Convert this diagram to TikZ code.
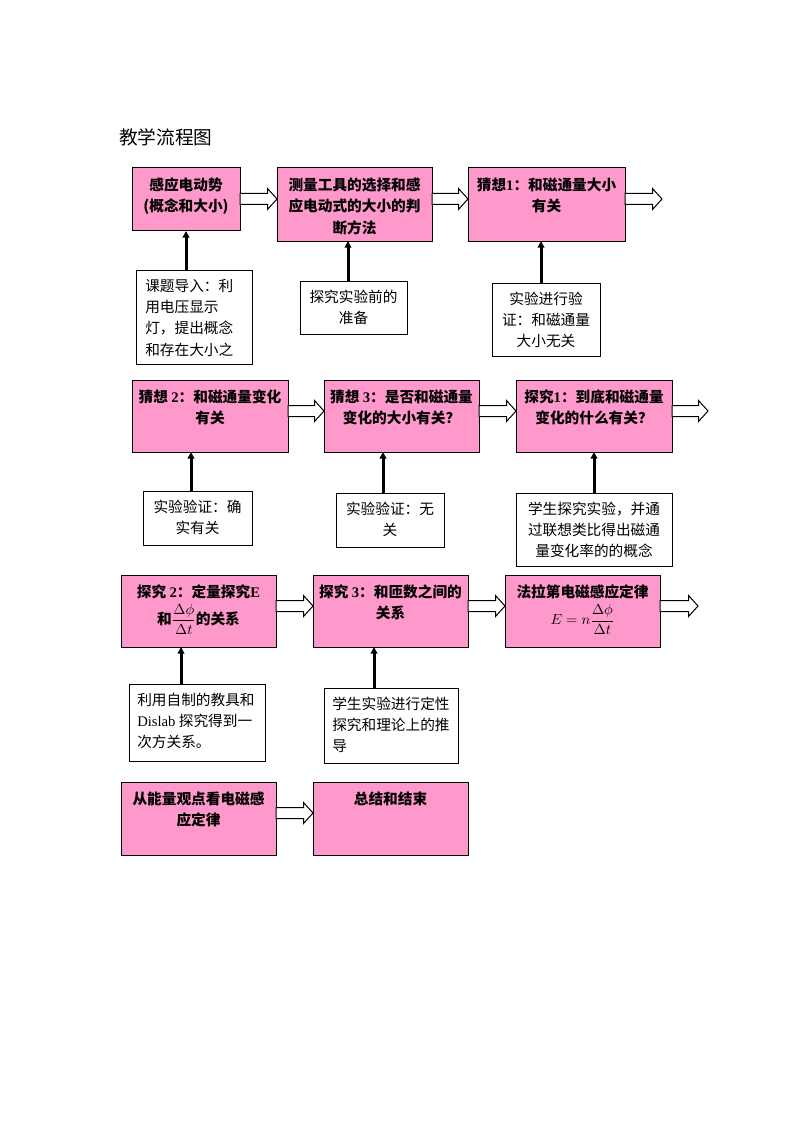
\documentclass[tikz,border=0pt]{standalone}
\usepackage{fontspec}
\setmainfont{Noto Sans CJK SC}
\newfontfamily\lat{Liberation Serif}
\usetikzlibrary{calc,arrows.meta}
\definecolor{boxpink}{RGB}{255,153,204}
\tikzset{
  pinkbox/.style={draw=black, line width=0.75pt, fill=boxpink, rectangle, inner sep=0pt, outer sep=0pt, anchor=north west},
  notebox/.style={draw=black, line width=0.75pt, fill=white, rectangle, inner sep=0pt, outer sep=0pt, anchor=north west},
  boxtext/.style={anchor=north, inner sep=0pt, align=center, font=\fontsize{11pt}{16pt}\selectfont\bfseries},
  notetextc/.style={anchor=north, inner sep=0pt, align=center, font=\fontsize{11pt}{16pt}\selectfont},
  notetextl/.style={anchor=north west, inner sep=0pt, align=left, font=\fontsize{11pt}{16pt}\selectfont},
  uparrow/.style={line width=2.25pt, -{Triangle[length=5pt,width=5pt]}},
  blockarrow/.style={draw=black, line width=0.75pt, fill=white, line join=miter},
}
\newcommand\mkbox[6]{\node[#6, minimum width={(#4-#2)*0.75pt}, minimum height={(#5-#3)*0.75pt}] (#1) at (#2,#3) {};}
\newcommand\barrow[2]{\draw[blockarrow] ($(#1)+(0,-5.5)$) -- ($(#2)+(-9.5,-5.5)$) -- ($(#2)+(-9.5,-10.5)$) -- (#2) -- ($(#2)+(-9.5,10.5)$) -- ($(#2)+(-9.5,5.5)$) -- ($(#1)+(0,5.5)$) -- cycle;}
\begin{document}
\begin{tikzpicture}[x=0.75pt,y=-0.75pt]
\useasboundingbox (0,0) rectangle (794,1123);
\node[anchor=west, inner sep=0pt, font=\fontsize{14pt}{16pt}\selectfont] (title) at (119,137) {教学流程图};

% ---------- row 1 ----------
\mkbox{A}{132}{168}{240}{231}{pinkbox}
\mkbox{B}{277}{168}{432}{241}{pinkbox}
\mkbox{C}{468}{168}{625}{241}{pinkbox}
\node[boxtext] (At) at ($(A.north)+(0,9.5)$) {感应电动势\\(概念和大小)};
\node[boxtext] (Bt) at ($(B.north)+(0,9.5)$) {测量工具的选择和感\\应电动式的大小的判\\断方法};
\node[boxtext] (Ct) at ($(C.north)+(0,9.5)$) {猜想{\lat 1}：和磁通量大小\\有关};

\mkbox{An}{136}{270}{252}{364}{notebox}
\mkbox{Bn}{300}{281}{407}{334}{notebox}
\mkbox{Cn}{492}{283}{600}{356}{notebox}
\node[notetextl] (Ant) at ($(An.north west)+(9,8.5)$) {课题导入：利\\用电压显示\\灯，提出概念\\和存在大小之};
\node[notetextc] (Bnt) at ($(Bn.north)+(0,8.5)$) {探究实验前的\\准备};
\node[notetextc] (Cnt) at ($(Cn.north)+(0,8.5)$) {实验进行验\\证：和磁通量\\大小无关};

\coordinate (ab1) at ($(A.north east)+(0,31)$);
\coordinate (ab2) at (ab1 -| B.west);
\barrow{ab1}{ab2}
\coordinate (bc1) at ($(B.north east)+(0,31)$);
\coordinate (bc2) at (bc1 -| C.west);
\barrow{bc1}{bc2}
\coordinate (cx1) at ($(C.north east)+(0,31)$);
\coordinate (cx2) at ($(cx1)+(37,0)$);
\barrow{cx1}{cx2}

\coordinate (uA) at (186,0);
\coordinate (uB) at (348,0);
\coordinate (uC) at (541,0);
\draw[uparrow] (uA |- An.north) -- (uA |- A.south);
\draw[uparrow] (uB |- Bn.north) -- (uB |- B.south);
\draw[uparrow] (uC |- Cn.north) -- (uC |- C.south);

% ---------- row 2 ----------
\mkbox{D}{132}{380}{288}{452}{pinkbox}
\mkbox{E}{324}{380}{479}{452}{pinkbox}
\mkbox{F}{516}{380}{672}{452}{pinkbox}
\node[boxtext] (Dt) at ($(D.north)+(0,9.5)$) {猜想 {\lat 2}：和磁通量变化\\有关};
\node[boxtext] (Et) at ($(E.north)+(0,9.5)$) {猜想 {\lat 3}：是否和磁通量\\变化的大小有关？};
\node[boxtext] (Ft) at ($(F.north)+(0,9.5)$) {探究{\lat 1}：到底和磁通量\\变化的什么有关？};

\mkbox{Dn}{143}{491}{252}{545}{notebox}
\mkbox{En}{336}{493}{444}{547}{notebox}
\mkbox{Fn}{516}{493}{672}{566}{notebox}
\node[notetextc] (Dnt) at ($(Dn.north)+(0,8.5)$) {实验验证：确\\实有关};
\node[notetextc] (Ent) at ($(En.north)+(0,8.5)$) {实验验证：无\\关};
\node[notetextc] (Fnt) at ($(Fn.north)+(0,8.5)$) {学生探究实验，并通\\过联想类比得出磁通\\量变化率的的概念};

\coordinate (de1) at ($(D.north east)+(0,31)$);
\coordinate (de2) at (de1 -| E.west);
\barrow{de1}{de2}
\coordinate (ef1) at ($(E.north east)+(0,31)$);
\coordinate (ef2) at (ef1 -| F.west);
\barrow{ef1}{ef2}
\coordinate (fx1) at ($(F.north east)+(0,31)$);
\coordinate (fx2) at ($(fx1)+(36,0)$);
\barrow{fx1}{fx2}

\coordinate (uD) at (191,0);
\coordinate (uE) at (383,0);
\coordinate (uF) at (594,0);
\draw[uparrow] (uD |- Dn.north) -- (uD |- D.south);
\draw[uparrow] (uE |- En.north) -- (uE |- E.south);
\draw[uparrow] (uF |- Fn.north) -- (uF |- F.south);

% ---------- row 3 ----------
\mkbox{G}{121}{575}{276}{647}{pinkbox}
\mkbox{H}{313}{575}{468}{647}{pinkbox}
\mkbox{I}{505}{575}{660}{647}{pinkbox}
\node[boxtext] (Gt) at ($(G.north)+(0,9.5)$) {探究 {\lat 2}：定量探究{\lat E}\\[3pt]和$\displaystyle\frac{\Delta\phi}{\Delta t}$的关系};
\node[boxtext] (Ht) at ($(H.north)+(0,9.5)$) {探究 {\lat 3}：和匝数之间的\\关系};
\node[boxtext] (It) at ($(I.north)+(0,9.5)$) {法拉第电磁感应定律\\[3pt]$E=n\displaystyle\frac{\Delta\phi}{\Delta t}$};

\mkbox{Gn}{129}{684}{265}{761}{notebox}
\mkbox{Hn}{324}{688}{458}{763}{notebox}
\node[notetextl] (Gnt) at ($(Gn.north west)+(8,8.5)$) {利用自制的教具和\\{\lat Dislab} 探究得到一\\次方关系。};
\node[notetextl] (Hnt) at ($(Hn.north west)+(8,8.5)$) {学生实验进行定性\\探究和理论上的推\\导};

\coordinate (gh1) at ($(G.north east)+(0,31)$);
\coordinate (gh2) at (gh1 -| H.west);
\barrow{gh1}{gh2}
\coordinate (hi1) at ($(H.north east)+(0,31)$);
\coordinate (hi2) at (hi1 -| I.west);
\barrow{hi1}{hi2}
\coordinate (ix1) at ($(I.north east)+(0,31)$);
\coordinate (ix2) at ($(ix1)+(38,0)$);
\barrow{ix1}{ix2}

\coordinate (uG) at (181,0);
\coordinate (uH) at (374,0);
\draw[uparrow] (uG |- Gn.north) -- (uG |- G.south);
\draw[uparrow] (uH |- Hn.north) -- (uH |- H.south);

% ---------- row 4 ----------
\mkbox{J}{121}{782}{276}{855}{pinkbox}
\mkbox{K}{313}{782}{468}{855}{pinkbox}
\node[boxtext] (Jt) at ($(J.north)+(0,9.5)$) {从能量观点看电磁感\\应定律};
\node[boxtext] (Kt) at ($(K.north)+(0,9.5)$) {总结和结束};
\coordinate (jk1) at ($(J.north east)+(0,31)$);
\coordinate (jk2) at (jk1 -| K.west);
\barrow{jk1}{jk2}
\end{tikzpicture}
\end{document}
